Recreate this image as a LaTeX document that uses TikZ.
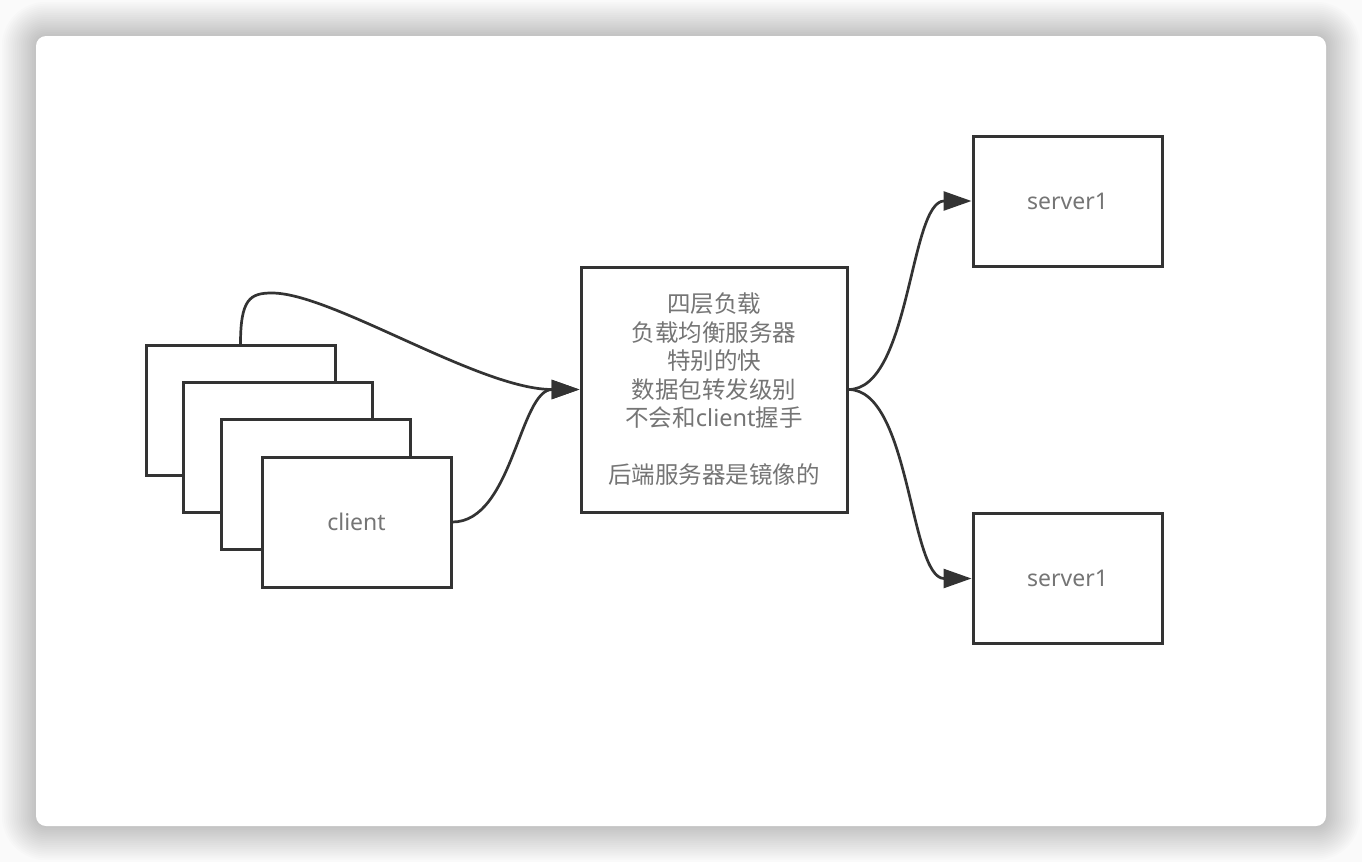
\documentclass[tikz,border=0pt]{standalone}
\usepackage{fontspec}
\setmainfont{Noto Sans}
\newfontfamily\cjk{Noto Sans CJK SC}
\newfontfamily\lat{Noto Sans}
\usetikzlibrary{arrows.meta}
\definecolor{linec}{HTML}{333333}
\definecolor{textc}{HTML}{757575}
\definecolor{pagebg}{HTML}{FAFAFA}
\tikzset{
  box/.style={draw=linec, line width=3pt, fill=white, inner sep=0pt,
    text=textc, font=\lat\fontsize{23}{28.5}\selectfont},
  clientbox/.style={box, minimum width=189pt, minimum height=130pt},
  serverbox/.style={box, minimum width=189pt, minimum height=130pt},
  lbbox/.style={box, minimum width=266pt, minimum height=245pt, align=center,
    font=\cjk\fontsize{23.5}{28.5}\selectfont},
  conn/.style={draw=linec, line width=2.7pt, -{Triangle[length=28pt,width=19pt]}}
}
\begin{document}
\begin{tikzpicture}[x=1pt,y=-1pt]
\useasboundingbox (0,0) rectangle (1362,862);
% page and card shadow
\fill[pagebg] (0,0) rectangle (1362,862);
\foreach \i in {1,...,18}{
  \pgfmathsetmacro{\d}{\i*1.9}
  \pgfmathsetmacro{\r}{10+\d}
  \fill[black, opacity=0.010, rounded corners=\r pt]
    (36-\d,36-\d) rectangle (1326+\d,826+\d);
}
\fill[white, rounded corners=10pt] (36,36) rectangle (1326,826);

% clients
\node[clientbox] (c1) at (240.5,410.5) {};
\node[clientbox] (c2) at (278,447.5) {};
\node[clientbox] (c3) at (315.5,484.5) {};
\node[clientbox] (c4) at (356.5,522) {client};

% load balancer
\node[lbbox] (lb) at (714,389.5) {四层负载\\负载均衡服务器\\特别的快\\数据包转发级别\\不会和{\lat client}握手\\[28.5pt]后端服务器是镜像的};

% servers
\node[serverbox] (s1) at (1067.5,201) {server1};
\node[serverbox] (s2) at (1067.5,578.5) {server1};

% connectors
\coordinate (peak) at (272,293);
\draw[conn] (c1.north) .. controls +(0,-45) and +(-22,0) .. (peak)
  .. controls +(60,0) and +(-100,0) .. (lb.west);
\draw[conn] (c4.east) .. controls +(60,0) and +(-60,0) .. (lb.west);
\draw[conn] (lb.east) .. controls +(62,0) and +(-62,0) .. (s1.west);
\draw[conn] (lb.east) .. controls +(62,0) and +(-62,0) .. (s2.west);
\end{tikzpicture}
\end{document}
